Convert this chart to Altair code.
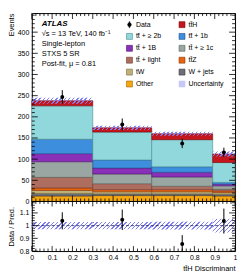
import math
import altair as alt
import pandas as pd
import numpy as np

# ---------------- data ----------------
edges = [0.0, 0.3, 0.59, 0.89, 1.0]

processes = ["Other", "W + jets", "tW", "tt\u0304Z", "tt\u0304 + light", "tt\u0304 + \u2265 1c",
             "tt\u0304 + 1B", "tt\u0304 + 1b", "tt\u0304 + \u2265 2b", "tt\u0304H"]
other = [13, 14, 14, 13]
wjets = [6, 4, 4, 4]
tw = [7, 5, 5, 4]
ttz = [6, 5, 5, 4]
ttlight = [25, 14, 8, 4]
tt1c = [37, 23, 22, 8]
tt1B = [19, 14, 11, 4]
tt1b = [34, 19, 13, 4]
tt2b = [79, 66, 64, 47]
tth = [12, 10, 14, 20]
series = [other, wjets, tw, ttz, ttlight, tt1c, tt1B, tt1b, tt2b, tth]

data_vals = [247, 182, 137, 116]
data_err = [16, 14, 11, 11]
unc = [7, 5, 5, 6]

legend_labels = ["Data", "tt\u0304H", "tt\u0304 + \u2265 2b", "tt\u0304 + 1b", "tt\u0304 + 1B",
                 "tt\u0304 + \u2265 1c", "tt\u0304 + light", "tt\u0304Z", "tW", "W + jets",
                 "Other", "Uncertainty"]
legend_fill = ["#000000", "#c4161c", "#91d8dc", "#3e8ede", "#8a2fb8", "#9aa6a1",
               "#ad6d5f", "#e86411", "#c0b07a", "#6e6e76", "#f6a80e", "#c8c8f8"]
legend_stroke = ["#000000", "#7a0a0e", "#4a8a8e", "#1f4f8a", "#4f1670", "#5a6660",
                 "#6a3a30", "#8a3a08", "#7a6e44", "#3a3a40", "#9a6600", "#c8c8f8"]

text_lines = ["\u221as = 13 TeV, 140 fb\u207b\u00b9", "Single-lepton", "STXS 5 SR",
              "Post-fit, \u03bc = 0.81"]

W = 205
H_MAIN = 190
H_RATIO = 50
H = H_MAIN + H_RATIO
Y_MAX = 445
R_MIN, R_MAX = 0.8, 1.19

# ---------------- tables ----------------
rows = []
for i in range(4):
    base = 0
    for p, vals in zip(processes, series):
        rows.append(dict(proc=p, lo=edges[i], hi=edges[i + 1], y0=base, y1=base + vals[i]))
        base += vals[i]
stack_df = pd.DataFrame(rows)

totals = [sum(s[i] for s in series) for i in range(4)]
bins_df = pd.DataFrame({
    "lo": edges[:-1], "hi": edges[1:],
    "total": totals, "unc": unc,
    "data": data_vals, "err": data_err,
})
bins_df["center"] = (bins_df["lo"] + bins_df["hi"]) / 2
bins_df["ulo"] = bins_df["total"] - bins_df["unc"]
bins_df["uhi"] = bins_df["total"] + bins_df["unc"]
bins_df["dlo"] = bins_df["data"] - bins_df["err"]
bins_df["dhi"] = bins_df["data"] + bins_df["err"]
bins_df["ratio"] = bins_df["data"] / bins_df["total"]
bins_df["rlo"] = ((bins_df["data"] - bins_df["err"]) / bins_df["total"]).clip(lower=R_MIN)
bins_df["rhi"] = (bins_df["data"] + bins_df["err"]) / bins_df["total"]
bins_df["blo"] = 1 - bins_df["unc"] / bins_df["total"]
bins_df["bhi"] = 1 + bins_df["unc"] / bins_df["total"]

xscale = alt.Scale(domain=[0, 1], nice=False, zero=False)
ymain = alt.Scale(domain=[0, Y_MAX], range=[H_MAIN, 0], nice=False, zero=False)
yratio = alt.Scale(domain=[R_MIN, R_MAX], range=[H, H_MAIN], nice=False, zero=False)
cscale = alt.Scale(domain=legend_labels, range=legend_fill)
sscale = alt.Scale(domain=legend_labels, range=legend_stroke)
data_shape = "M-0.6,0A0.6,0.6,0,1,1,0.6,0A0.6,0.6,0,1,1,-0.6,0Z M-0.1,-1L0.1,-1L0.1,1L-0.1,1Z"
shscale = alt.Scale(domain=legend_labels, range=[data_shape] + ["square"] * 11)


def hatch(w, h, period=3.0, frac=0.35, color="#8080f4"):
    """Linear gradient imitating a '///' hatch in a w x h pixel box."""
    a, b = 1.0 / h, 1.0 / w
    s = (a + b) / (a * a + b * b)
    n = max(1, int(round((w + h) / math.sqrt(2) / period)))
    clear = "rgba(255,255,255,0)"
    stops = []
    for k in range(n):
        o0, o1, o2 = k / n, (k + frac) / n, (k + 1) / n
        stops += [{"offset": o0, "color": color}, {"offset": o1, "color": color},
                  {"offset": o1, "color": clear}, {"offset": o2, "color": clear}]
    return {"gradient": "linear", "x1": 0, "y1": 0, "x2": s * a, "y2": s * b, "stops": stops}


def yticks(vals, scale, length, side):
    df = pd.DataFrame({"v": vals})
    x1, x2 = (0, length) if side == "left" else (W, W - length)
    return alt.Chart(df).mark_rule(color="black", strokeWidth=0.8).encode(
        y=alt.Y("v:Q", scale=scale, axis=None), x=alt.value(x1), x2=alt.value(x2))


def xticks(vals, length, ypix, direction):
    df = pd.DataFrame({"v": vals})
    return alt.Chart(df).mark_rule(color="black", strokeWidth=0.8).encode(
        x=alt.X("v:Q", scale=xscale, axis=None), y=alt.value(ypix),
        y2=alt.value(ypix + direction * length))


x_major = [round(float(v), 2) for v in np.arange(0, 1.0001, 0.1)]
x_minor = [round(float(v), 2) for v in np.arange(0, 1.0001, 0.02)
           if abs(v * 10 - round(v * 10)) > 1e-6]
ym_major = list(range(0, 401, 50))
ym_minor = [v for v in range(0, Y_MAX, 10) if v % 50]
yr_major = [0.8, 0.9, 1.0, 1.1]
yr_minor = [round(float(v), 2) for v in np.arange(R_MIN, R_MAX, 0.02)
            if abs(v * 10 - round(v * 10)) > 1e-6]

# ---------------- guides ----------------
main_yaxis = alt.Axis(values=ym_major, orient="left", labelFontSize=7, labelPadding=3, ticks=False,
                      domain=False, grid=False, title="Events", titleFontSize=7.5,
                      titleFontWeight="normal", titleX=-24, titleY=0, titleAlign="right",
                      titleBaseline="top", titleAngle=270)
ratio_yaxis = alt.Axis(values=yr_major, orient="left", format="~g", labelFontSize=7, labelPadding=3,
                       ticks=False, domain=False, grid=False, title="Data / Pred.", titleFontSize=7.5,
                       titleFontWeight="normal", titleX=-24, titleY=H_MAIN + H_RATIO / 2,
                       titleAlign="center", titleBaseline="top", titleAngle=270)
ratio_xaxis = alt.Axis(values=x_major, orient="bottom", format="~g", labelFontSize=7, labelPadding=3,
                       ticks=False, domain=False, grid=False, labelFlush=False,
                       title="tt\u0304H Discriminant", titleFontSize=7.5, titleFontWeight="normal",
                       titleAnchor="end", titlePadding=4)
leg = alt.Legend(orient="none", legendX=95, legendY=8, columns=2, direction="horizontal",
                 title=None, labelFontSize=7, symbolSize=36, rowPadding=3, columnPadding=16,
                 labelOffset=3, padding=0, symbolStrokeWidth=0.6, labelLimit=90)

# ---------------- main panel ----------------
rects = alt.Chart(stack_df).mark_rect(strokeWidth=0.6).encode(
    x=alt.X("lo:Q", scale=xscale, axis=ratio_xaxis), x2="hi:Q",
    y=alt.Y("y0:Q", scale=ymain, axis=main_yaxis), y2="y1:Q",
    color=alt.Color("proc:N", scale=cscale, legend=leg),
    stroke=alt.Stroke("proc:N", scale=sscale, legend=leg),
)

band_layers = []
rband_layers = []
for i in range(4):
    one = bins_df.iloc[[i]]
    w = (edges[i + 1] - edges[i]) * W
    hm = (one["uhi"].iloc[0] - one["ulo"].iloc[0]) * H_MAIN / Y_MAX
    hr = (one["bhi"].iloc[0] - one["blo"].iloc[0]) * H_RATIO / (R_MAX - R_MIN)
    band_layers.append(alt.Chart(one).mark_rect(fill=hatch(w, hm)).encode(
        x=alt.X("lo:Q", scale=xscale, axis=None), x2="hi:Q",
        y=alt.Y("ulo:Q", scale=ymain, axis=None), y2="uhi:Q"))
    rband_layers.append(alt.Chart(one).mark_rect(fill=hatch(w, hr)).encode(
        x=alt.X("lo:Q", scale=xscale, axis=None), x2="hi:Q",
        y=alt.Y("blo:Q", scale=yratio, axis=ratio_yaxis if i == 0 else None), y2="bhi:Q"))

errs = alt.Chart(bins_df).mark_rule(color="black", strokeWidth=1).encode(
    x=alt.X("center:Q", scale=xscale, axis=None),
    y=alt.Y("dlo:Q", scale=ymain, axis=None), y2="dhi:Q")

pts = alt.Chart(bins_df).mark_circle(size=16, color="black", opacity=1).encode(
    x=alt.X("center:Q", scale=xscale, axis=None),
    y=alt.Y("data:Q", scale=ymain, axis=None))

legend_df = pd.DataFrame({"proc": legend_labels, "x": [0.5] * 12, "y": [-1000] * 12})
legend_layer = alt.Chart(legend_df).mark_point(filled=True, opacity=1, clip=True).encode(
    x=alt.X("x:Q", scale=xscale, axis=None),
    y=alt.Y("y:Q", scale=ymain, axis=None),
    color=alt.Color("proc:N", scale=cscale, legend=leg),
    stroke=alt.Stroke("proc:N", scale=sscale, legend=leg),
    shape=alt.Shape("proc:N", scale=shscale, legend=leg),
)

atlas = alt.Chart(pd.DataFrame({"t": ["ATLAS"]})).mark_text(
    align="left", baseline="middle", fontSize=8, fontWeight="bold", fontStyle="italic").encode(
    text="t:N", x=alt.value(10), y=alt.value(11))

info_layers = [
    alt.Chart(pd.DataFrame({"t": [line]})).mark_text(
        align="left", baseline="middle", fontSize=7.5).encode(
        text="t:N", x=alt.value(10), y=alt.value(21 + 10 * i))
    for i, line in enumerate(text_lines)
]

# ---------------- ratio panel ----------------
one_line = alt.Chart(pd.DataFrame({"v": [1.0]})).mark_rule(
    color="#202060", strokeDash=[3, 2], strokeWidth=0.8).encode(
    y=alt.Y("v:Q", scale=yratio, axis=None), x=alt.value(0), x2=alt.value(W))

rerrs = alt.Chart(bins_df).mark_rule(color="black", strokeWidth=1).encode(
    x=alt.X("center:Q", scale=xscale, axis=None),
    y=alt.Y("rlo:Q", scale=yratio, axis=None), y2="rhi:Q")

rpts = alt.Chart(bins_df).mark_circle(size=16, color="black", opacity=1).encode(
    x=alt.X("center:Q", scale=xscale, axis=None),
    y=alt.Y("ratio:Q", scale=yratio, axis=None))

separator = alt.Chart(pd.DataFrame({"v": [0]})).mark_rule(color="black", strokeWidth=1).encode(
    x=alt.value(0), x2=alt.value(W), y=alt.value(H_MAIN))

chart = alt.layer(
    rects, *band_layers, errs, pts, legend_layer, atlas, *info_layers,
    yticks(ym_major, ymain, 6, "left"), yticks(ym_minor, ymain, 3, "left"),
    yticks(ym_major, ymain, 6, "right"), yticks(ym_minor, ymain, 3, "right"),
    xticks(x_major, 6, 0, 1), xticks(x_minor, 3, 0, 1),
    xticks(x_major, 6, H_MAIN, -1), xticks(x_minor, 3, H_MAIN, -1),
    *rband_layers, one_line, rerrs, rpts, separator,
    yticks(yr_major, yratio, 6, "left"), yticks(yr_minor, yratio, 3, "left"),
    yticks(yr_major, yratio, 6, "right"), yticks(yr_minor, yratio, 3, "right"),
    xticks(x_major, 5, H, -1), xticks(x_minor, 2.5, H, -1),
    xticks(x_major, 5, H_MAIN, 1), xticks(x_minor, 2.5, H_MAIN, 1),
).resolve_scale(y="independent", x="independent").resolve_axis(
    y="independent", x="independent").properties(
    width=W, height=H,
    padding={"left": 0, "top": 3, "right": 4, "bottom": 0},
).configure(font="Liberation Sans").configure_view(stroke="black", strokeWidth=1)

chart.save("out.html", embed_options={"renderer": "svg", "actions": False})
